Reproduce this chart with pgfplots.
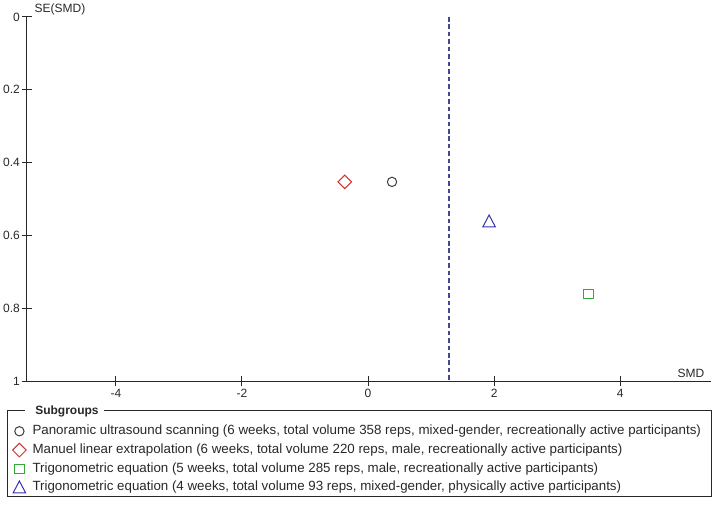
\documentclass[border=0pt]{standalone}
\usepackage{fontspec}
\setmainfont{Liberation Sans}
\usepackage{pgfplots}
\pgfplotsset{compat=1.18}

\definecolor{markgrey}{RGB}{60,60,60}
\definecolor{markred}{RGB}{204,51,51}
\definecolor{markgreen}{RGB}{51,170,51}
\definecolor{markblue}{RGB}{51,51,170}
\definecolor{refline}{RGB}{70,70,150}
\definecolor{axisgrey}{RGB}{40,40,40}

\begin{document}
\begin{tikzpicture}
\useasboundingbox (-20.25pt,-93pt) rectangle (519.75pt,285.75pt);
\begin{axis}[
    scale only axis,
    width=513pt, height=273pt,
    xmin=-5.41, xmax=5.44,
    ymin=0, ymax=1,
    y dir=reverse,
    axis x line*=bottom,
    axis y line*=left,
    axis line style={axisgrey, line width=0.75pt, -},
    tick style={axisgrey, line width=0.75pt},
    tick align=center,
    major tick length=8pt,
    xtick={-4,-2,0,2,4},
    ytick={0,0.2,0.4,0.6,0.8,1},
    yticklabels={0,0.2,0.4,0.6,0.8,1},
    ticklabel style={font=\fontsize{9}{11}\selectfont, text=axisgrey},
    yticklabel style={inner xsep=1.2pt},
    xticklabel style={inner ysep=2pt},
    /pgf/number format/assume math mode=true,
    xlabel={SMD},
    ylabel={SE(SMD)},
    every axis x label/.style={at={(axis description cs:1,0)}, anchor=base east,
        xshift=-1.5pt, yshift=3pt, font=\fontsize{9}{11}\selectfont, text=axisgrey},
    every axis y label/.style={at={(axis description cs:0,1)}, anchor=south west,
        xshift=4.5pt, inner sep=1pt, font=\fontsize{9}{11}\selectfont, text=axisgrey},
    legend image code/.code={
        \path[draw=none, fill=none] (-5pt,-4pt) rectangle (5pt,4pt);
        \draw[#1] plot coordinates {(0pt,0pt)};
    },
    legend cell align=left,
    legend style={draw=none, fill=none, inner sep=0pt,
        at={(-0.02144,-0.1209)}, anchor=north west,
        font=\fontsize{10}{12}\selectfont, text=axisgrey,
        nodes={inner sep=0pt, text height=7pt, text depth=2pt},
        row sep=4.5pt,
        /tikz/every odd column/.style={column sep=4.75pt}},
    clip=false,
]

% pooled estimate
\addplot[draw=refline, line width=1.5pt, dash pattern=on 3.4pt off 2.2pt, forget plot]
    coordinates {(1.29,0) (1.29,1)};

\addplot[only marks, mark=o, markgrey, mark size=3.5pt, mark options={line width=0.75pt}]
    coordinates {(0.38,0.453)};
\addlegendentry{Panoramic ultrasound scanning (6 weeks, total volume 358 reps, mixed-gender, recreationally active participants)}

\addplot[only marks, mark=square, markred, mark size=3.6pt, mark options={rotate=45, line width=0.75pt}]
    coordinates {(-0.37,0.453)};
\addlegendentry{Manuel linear extrapolation (6 weeks, total volume 220 reps, male, recreationally active participants)}

\addplot[only marks, mark=square, markgreen, mark size=3.6pt, mark options={line width=0.75pt}]
    coordinates {(3.50,0.761)};
\addlegendentry{Trigonometric equation (5 weeks, total volume 285 reps, male, recreationally active participants)}

\addplot[only marks, mark=triangle, markblue, mark size=5.4pt, mark options={yscale=1.1, yshift=-1.4pt, line width=0.75pt}]
    coordinates {(1.92,0.56)};
\addlegendentry{Trigonometric equation (4 weeks, total volume 93 reps, mixed-gender, physically active participants)}

\end{axis}

% legend frame with title in the border
\draw[axisgrey, line width=0.75pt] (-1.5pt,-22.5pt) -- (-14.25pt,-22.5pt) -- (-14.25pt,-87pt)
    -- (513pt,-87pt) -- (513pt,-22.5pt) -- (57.75pt,-22.5pt);
\node[anchor=west, inner sep=0pt, font=\fontsize{9}{11}\selectfont\bfseries, text=axisgrey]
    at (6pt,-22.5pt) {Subgroups};
\end{tikzpicture}
\end{document}
